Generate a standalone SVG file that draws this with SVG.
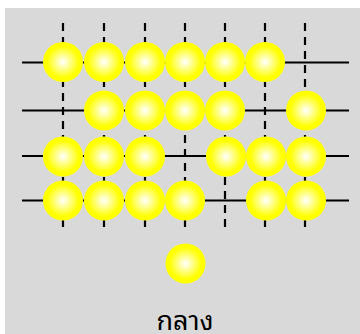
<svg xmlns="http://www.w3.org/2000/svg" width="360" height="334" viewBox="0 0 360 334">
<defs>
<radialGradient id="ball" cx="50%" cy="50%" r="50%">
<stop offset="0" stop-color="#ffffff"/>
<stop offset="0.8" stop-color="#ffff00"/>
<stop offset="1" stop-color="#ffff00"/>
</radialGradient>
<style>
.h{stroke:#000;stroke-width:2.2;fill:none}
.v{stroke:#000;stroke-width:2.2;stroke-dasharray:8 6;fill:none}
.b{fill:url(#ball)}
.t{font-family:"Noto Sans Thai Looped","Noto Serif Thai","Noto Sans Thai","DejaVu Sans",serif;font-size:27px;fill:#000;text-anchor:middle}
</style>
</defs>
<rect x="5" y="8" width="355" height="326" fill="#d9d9d9"/>
<g id="grid">
<path class="h" d="M22 62.5H349M22 110.5H349M22 156H349M22 200.5H349"/>
<path class="v" d="M63 23V227M104 23V227M145 23V227M185 23V227M225 23V227M265 23V227M305 23V227"/>
</g>
<g id="r1c1"><circle class="b" cx="63" cy="62" r="20"/></g>
<g id="r1c2"><circle class="b" cx="104" cy="62" r="20"/></g>
<g id="r1c3"><circle class="b" cx="145" cy="62" r="20"/></g>
<g id="r1c4"><circle class="b" cx="185" cy="62" r="20"/></g>
<g id="r1c5"><circle class="b" cx="225" cy="62" r="20"/></g>
<g id="r1c6"><circle class="b" cx="265" cy="62" r="20"/></g>
<g id="r2c2"><circle class="b" cx="104" cy="110.5" r="20"/></g>
<g id="r2c3"><circle class="b" cx="145" cy="110.5" r="20"/></g>
<g id="r2c4"><circle class="b" cx="185" cy="110.5" r="20"/></g>
<g id="r2c5"><circle class="b" cx="225" cy="110.5" r="20"/></g>
<g id="r2c7"><circle class="b" cx="306" cy="110.5" r="20"/></g>
<g id="r3c1"><circle class="b" cx="63" cy="156.5" r="20"/></g>
<g id="r3c2"><circle class="b" cx="104" cy="156.5" r="20"/></g>
<g id="r3c3"><circle class="b" cx="145" cy="156.5" r="20"/></g>
<g id="r3c5"><circle class="b" cx="226" cy="156.5" r="20"/></g>
<g id="r3c6"><circle class="b" cx="266" cy="156.5" r="20"/></g>
<g id="r3c7"><circle class="b" cx="306" cy="156.5" r="20"/></g>
<g id="r4c1"><circle class="b" cx="63" cy="200.5" r="20"/></g>
<g id="r4c2"><circle class="b" cx="104" cy="200.5" r="20"/></g>
<g id="r4c3"><circle class="b" cx="145" cy="200.5" r="20"/></g>
<g id="r4c4"><circle class="b" cx="185" cy="200.5" r="20"/></g>
<g id="r4c6"><circle class="b" cx="266" cy="200.5" r="20"/></g>
<g id="r4c7"><circle class="b" cx="306" cy="200.5" r="20"/></g>
<g id="extra"><circle class="b" cx="185.5" cy="263.5" r="20"/></g>
<g id="label"><text class="t" x="185" y="330">กลาง</text></g>
</svg>
